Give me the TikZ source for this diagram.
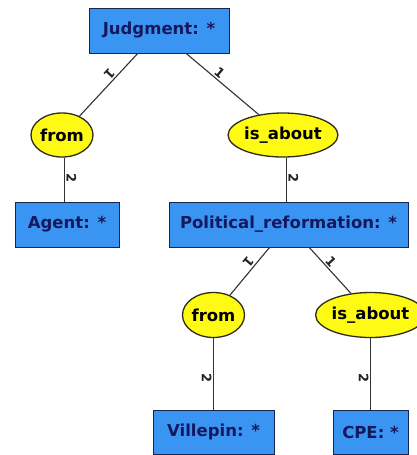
\documentclass[tikz,border=0pt]{standalone}
\usepackage{fontspec}
\setmainfont{DejaVu Sans}
\usetikzlibrary{shapes.geometric}
\definecolor{boxblue}{RGB}{58,148,242}
\definecolor{boxline}{RGB}{25,35,80}
\definecolor{boxtext}{RGB}{20,25,95}
\definecolor{ellyel}{RGB}{255,250,20}
\definecolor{ellline}{RGB}{45,45,25}
\definecolor{edgecol}{RGB}{50,50,50}
\definecolor{labcol}{RGB}{35,35,35}
\begin{document}
\begin{tikzpicture}[x=1pt,y=-1pt,
  concept/.style={rectangle, draw=boxline, line width=1pt, fill=boxblue, text=boxtext,
    font=\fontsize{16.5}{18}\selectfont\bfseries, inner sep=0pt, minimum height=45pt},
  relation/.style={ellipse, draw=ellline, line width=1.3pt, fill=ellyel, text=black,
    font=\fontsize{16.5}{18}\selectfont\bfseries, inner sep=0pt, minimum height=44pt},
  link/.style={draw=edgecol, line width=1.1pt},
  arclabel/.style={font=\fontsize{13}{14}\selectfont\bfseries, text=labcol, sloped,
    allow upside down, inner sep=1.5pt}]
\useasboundingbox (0,0) rectangle (417,455);
\fill[white] (0,0) rectangle (417,455);

\node[concept, minimum width=140pt] (judg) at (159,30.5) {Judgment: *};
\node[relation, minimum width=60pt] (from1) at (62,135) {from};
\node[relation, minimum width=104pt] (about1) at (283,135) {is\_about};
\node[concept, minimum width=104pt] (agent) at (67,224.5) {Agent: *};
\node[concept, minimum width=239pt] (polit) at (288.5,224.5) {Political\_reformation: *};
\node[relation, minimum width=62pt, minimum height=45pt] (from2) at (213.5,315) {from};
\node[relation, minimum width=104pt, minimum height=45pt] (about2) at (370.5,315) {is\_about};
\node[concept, minimum width=121pt, minimum height=44pt] (ville) at (213.5,432) {Villepin: *};
\node[concept, minimum width=75pt, minimum height=44pt] (cpe) at (370.5,432) {CPE: *};

\coordinate (f1b) at ([xshift=2.5pt]from1.south);
\coordinate (a1b) at ([xshift=3.5pt]about1.south);

\draw[link] (judg) -- node[arclabel, pos=0.4, below] {1} (from1);
\draw[link] (judg) -- node[arclabel, pos=0.4, above] {1} (about1);
\draw[link] (f1b) -- node[arclabel, pos=0.47, above] {2} (f1b |- agent.north);
\draw[link] (a1b) -- node[arclabel, pos=0.47, above] {2} (a1b |- polit.north);
\draw[link] (polit) -- node[arclabel, pos=0.4, below] {1} (from2);
\draw[link] (polit) -- node[arclabel, pos=0.4, above] {1} (about2);
\draw[link] (from2) -- node[arclabel, pos=0.56, below] {2} (ville);
\draw[link] (about2) -- node[arclabel, pos=0.56, below] {2} (cpe);
\end{tikzpicture}
\end{document}
